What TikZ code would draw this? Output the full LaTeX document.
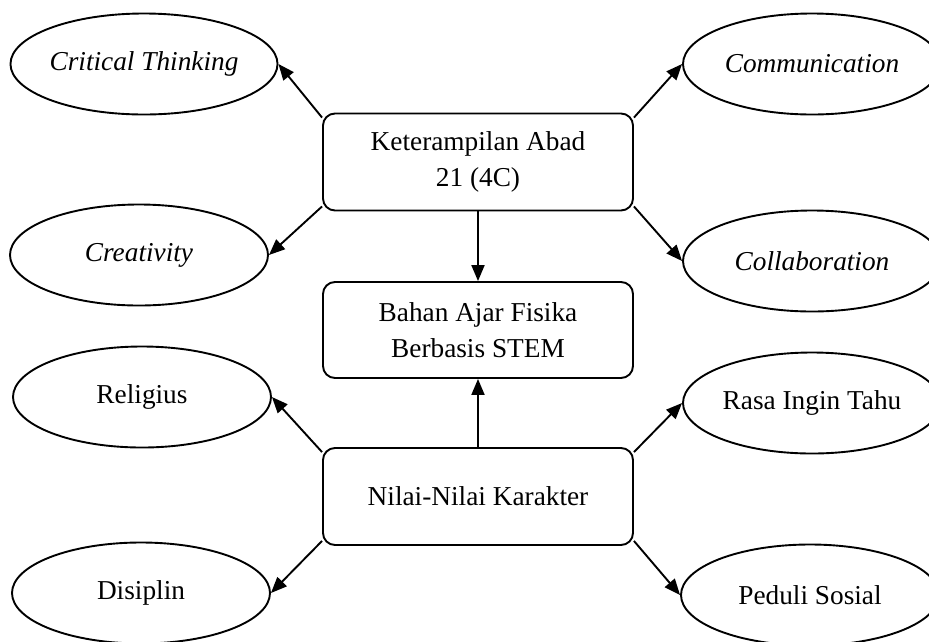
\documentclass[tikz,border=0pt]{standalone}
\usepackage{fontspec}
\setmainfont{Liberation Serif}
\usetikzlibrary{arrows.meta,shapes.geometric}
\begin{document}
\begin{tikzpicture}[x=1pt,y=-1pt,
  ell/.style={draw,line width=1.9pt,ellipse,minimum width=258pt,minimum height=101pt,inner sep=0pt,font=\fontsize{27.3}{36}\selectfont},
  rbox/.style={draw,line width=1.9pt,rectangle,rounded corners=12pt,minimum width=310pt,minimum height=97pt,inner sep=0pt,align=center,font=\fontsize{27.3}{36}\selectfont},
  arr/.style={line width=1.9pt,-{Triangle[length=16pt,width=13pt]}}]
\useasboundingbox (0,0) rectangle (929,641);
\node[ell] (ct) at (144,64) {\itshape Critical Thinking};
\node[ell] (cr) at (139,255) {\itshape Creativity};
\node[ell] (co) at (812,64) {\itshape Communication};
\node[ell] (cl) at (812,261) {\itshape Collaboration};
\node[ell] (re) at (142,397) {Religius};
\node[ell] (di) at (141,593) {Disiplin};
\node[ell] (ra) at (812,403) {Rasa Ingin Tahu};
\node[ell] (pe) at (810,595) {Peduli Sosial};
\node[rbox] (k) at (478,162) {Keterampilan Abad\\21 (4C)};
\node[rbox,minimum height=96pt] (b) at (478,330) {Bahan Ajar Fisika\\Berbasis STEM};
\node[rbox] (n) at (478,496.5) {Nilai-Nilai Karakter};
\draw[arr] ([yshift=-5pt]k.north west) -- (ct.east);
\draw[arr] ([yshift=5pt]k.south west) -- (cr.east);
\draw[arr] ([yshift=-5pt]k.north east) -- (co.west);
\draw[arr] ([yshift=5pt]k.south east) -- (cl.west);
\draw[arr] ([yshift=-5pt]n.north west) -- (re.east);
\draw[arr] ([yshift=5pt]n.south west) -- (di.east);
\draw[arr] ([yshift=-5pt]n.north east) -- (ra.west);
\draw[arr] ([yshift=5pt]n.south east) -- (pe.west);
\draw[arr] (k.south) -- (b.north);
\draw[arr] (n.north) -- (b.south);
\end{tikzpicture}
\end{document}
